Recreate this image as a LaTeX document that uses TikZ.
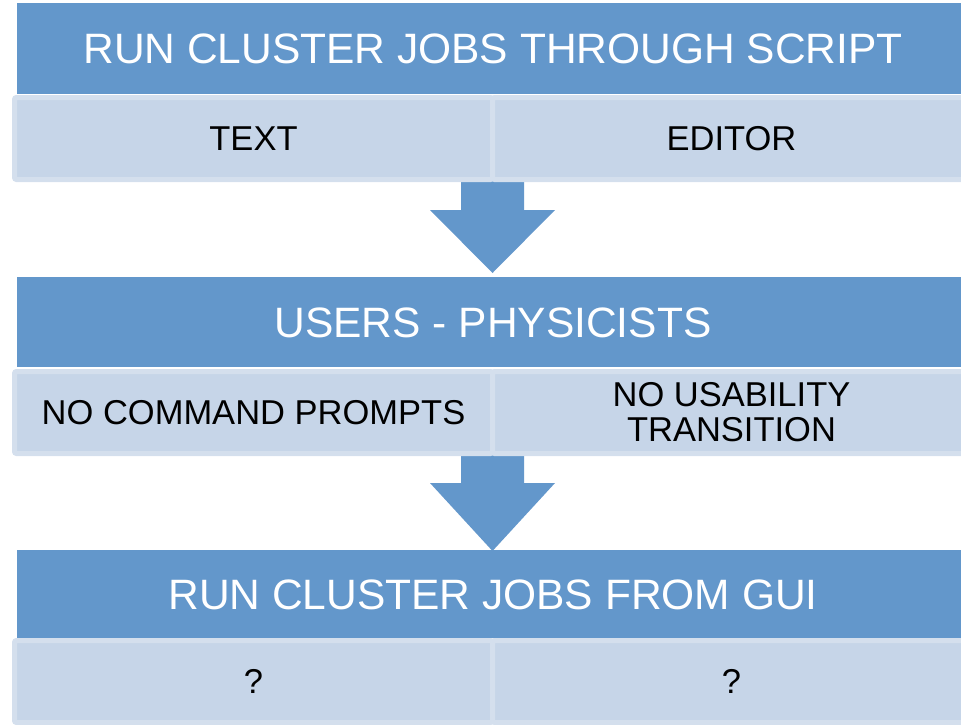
\documentclass[tikz,border=0pt]{standalone}
\usepackage{fontspec}
\setmainfont{Liberation Sans}
\definecolor{hdr}{RGB}{99,151,203}
\definecolor{cellfill}{RGB}{198,213,232}
\definecolor{cellline}{RGB}{212,223,237}
\begin{document}
\begin{tikzpicture}[x=1pt,y=-1pt,
  header/.style={fill=hdr, draw=none, text=white, inner sep=0pt,
    minimum width=952pt, text height=30.5pt, text depth=0pt,
    font=\fontsize{42.5}{50}\selectfont},
  cell/.style={fill=cellfill, draw=cellline, line width=5pt, rounded corners=2pt,
    inner sep=0pt, minimum width=478pt, minimum height=82pt, align=center,
    font=\fontsize{34.5}{35}\selectfont},
  blockarrow/.style={fill=hdr, draw=none}]
\useasboundingbox (0,0) rectangle (961,725);
\clip (0,0) rectangle (961,725);
% block arrows
\fill[blockarrow] (461,180) -- (524,180) -- (524,210) -- (555,210) -- (492.5,273)
   -- (430,210) -- (461,210) -- cycle;
\fill[blockarrow] (461,455) -- (524,455) -- (524,483) -- (555,483) -- (492.5,551)
   -- (430,483) -- (461,483) -- cycle;
% row 1
\node[cell] (c1l) at (253.5,138.5) {TEXT};
\node[cell] (c1r) at (731.5,138.5) {EDITOR};
\node[header, minimum height=91pt] (h1) at (493,48.5) {RUN CLUSTER JOBS THROUGH SCRIPT};
% row 2
\node[cell] (c2l) at (253.5,412.5) {NO COMMAND PROMPTS};
\node[cell] (c2r) at (731.5,412.5) {NO USABILITY\\TRANSITION};
\node[header, minimum height=90pt] (h2) at (493,322) {USERS - PHYSICISTS};
% row 3
\node[cell] (c3l) at (253.5,681.5) {?};
\node[cell] (c3r) at (731.5,681.5) {?};
\node[header, minimum height=88pt] (h3) at (493,594) {RUN CLUSTER JOBS FROM GUI};
\end{tikzpicture}
\end{document}
